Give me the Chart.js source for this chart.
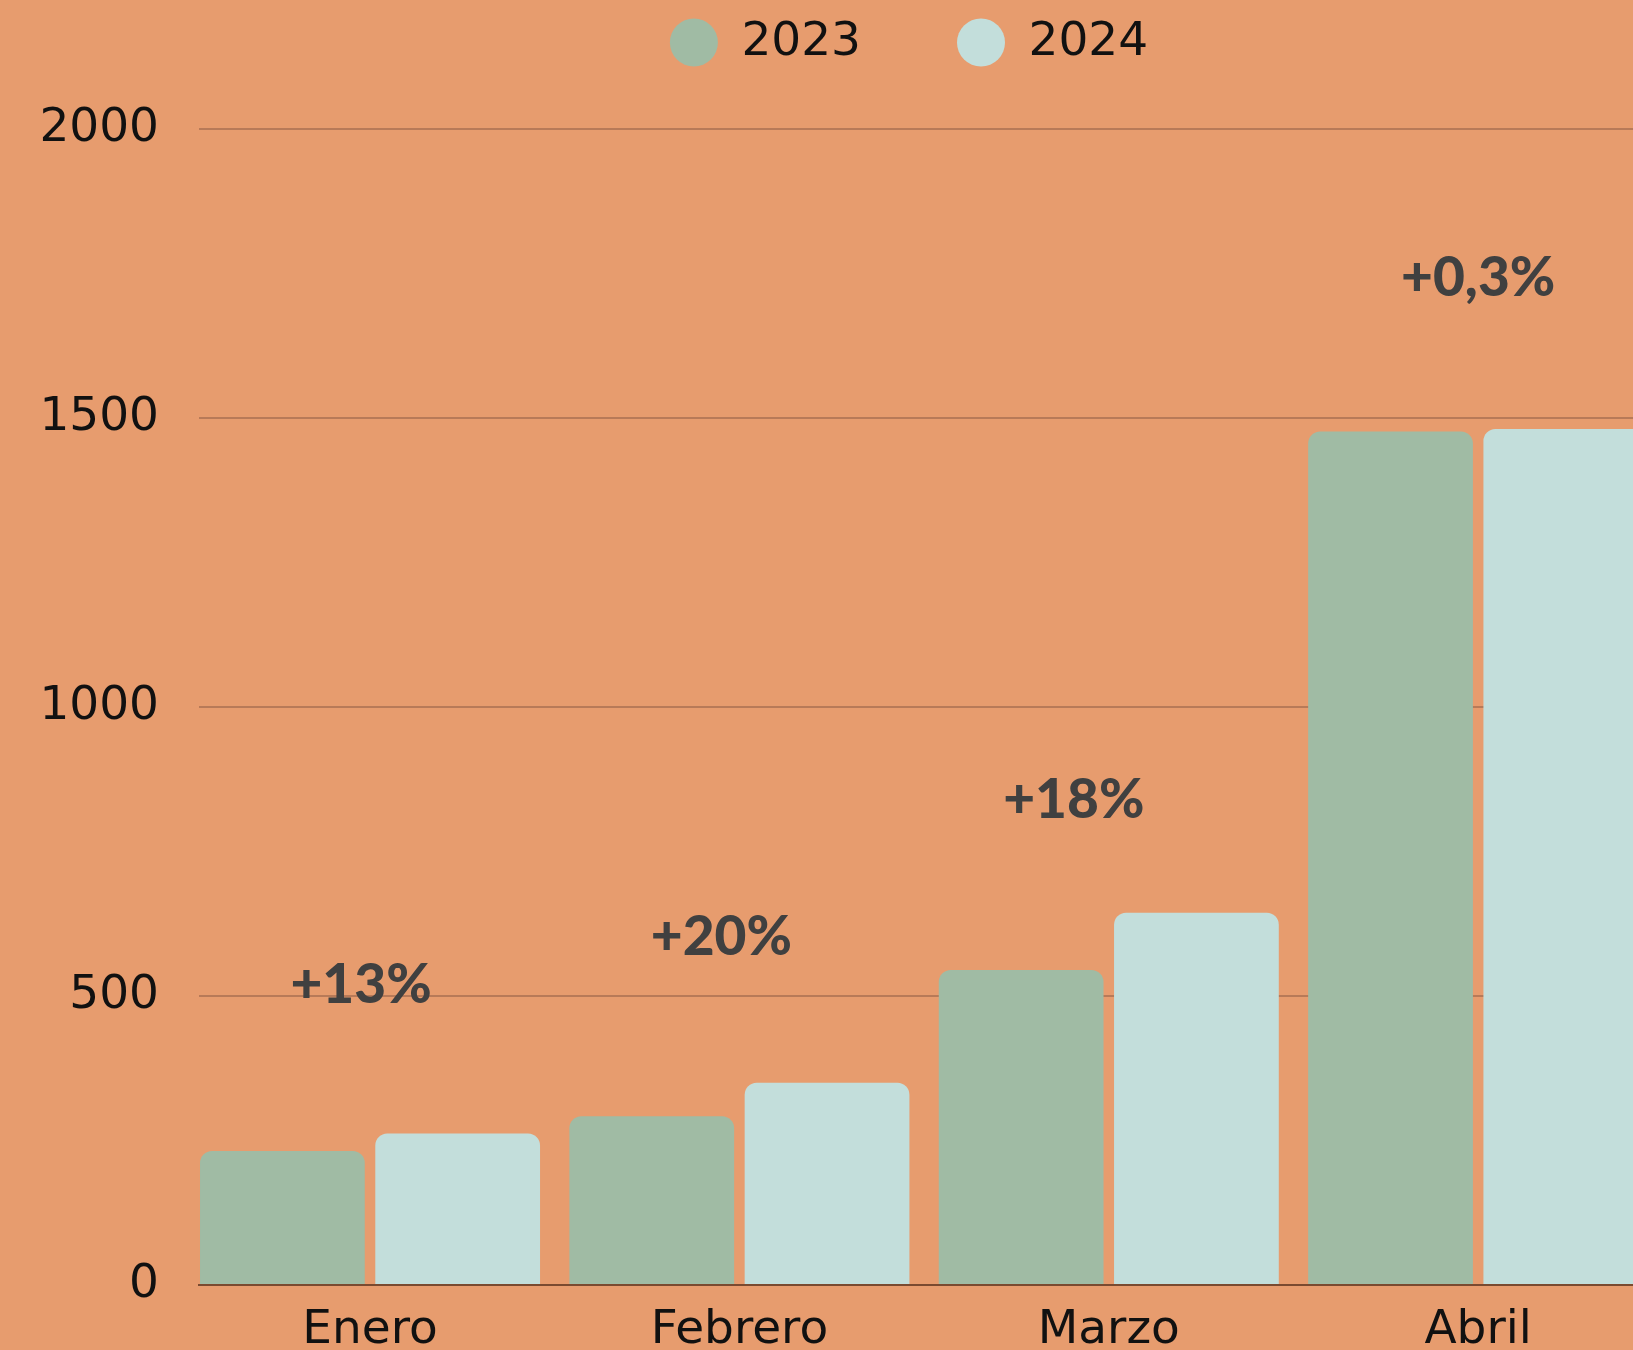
<!DOCTYPE html>
<html>
<head>
<meta charset="utf-8">
<script src="https://cdn.jsdelivr.net/npm/chart.js@4/dist/chart.umd.min.js"></script>
<style>
  html, body { margin: 0; padding: 0; background: #e79c6e; overflow: hidden; }
  #wrap { width: 1818px; height: 1350px; }
</style>
</head>
<body>
<div id="wrap"><canvas id="salesChart"></canvas></div>
<script>
const MONTHS = ['Enero', 'Febrero', 'Marzo', 'Abril'];
const SERIES_NAMES = ['2023', '2024'];
const VALUES_2023 = [232, 292, 545, 1477];
const VALUES_2024 = [262, 350, 644, 1481];
const GROWTH_LABELS = ['+13%', '+20%', '+18%', '+0,3%'];
const Y_TICKS = [0, 500, 1000, 1500, 2000];

const COLORS = ['#a0bba4', '#c3dedb'];
const TEXT = '#111111';
const AXIS_FONT = { family: '"DejaVu Sans", sans-serif', size: 47 };

// small hand nudges for the growth labels (px), they were placed by hand in the original
const LABEL_NUDGE = [[-9, 0], [-18, 3], [-35, 35], [0, -3]];

const toPoints = vals => vals.map((v, i) => ({ x: i, y: v }));

const growthLabels = {
    id: 'growthLabels',
    afterDatasetsDraw(chart) {
        const { ctx, scales: { x, y } } = chart;
        ctx.save();
        ctx.font = '900 55px Lato, "Liberation Sans", sans-serif';
        ctx.fillStyle = '#404040';
        ctx.textAlign = 'center';
        ctx.textBaseline = 'middle';
        GROWTH_LABELS.forEach((txt, i) => {
            const top = Math.max(VALUES_2023[i], VALUES_2024[i]);
            const px = x.getPixelForValue(i) + LABEL_NUDGE[i][0];
            const py = y.getPixelForValue(top) - 148 + LABEL_NUDGE[i][1];
            ctx.fillText(txt, px, py);
        });
        ctx.restore();
    }
};

new Chart(document.getElementById('salesChart'), {
    type: 'bar',
    data: {
        datasets: [
            { label: SERIES_NAMES[0], data: toPoints(VALUES_2023), backgroundColor: COLORS[0], borderWidth: 0, borderRadius: 12 },
            { label: SERIES_NAMES[1], data: toPoints(VALUES_2024), backgroundColor: COLORS[1], borderWidth: 0, borderRadius: 12 },
        ]
    },
    options: {
        responsive: true,
        maintainAspectRatio: false,
        animation: false,
        layout: { padding: { top: -77, left: 0, right: 0, bottom: 0 } },
        datasets: { bar: { categoryPercentage: 0.949, barPercentage: 0.94 } },
        plugins: {
            tooltip: { enabled: false },
            legend: {
                labels: {
                    usePointStyle: true,
                    pointStyle: 'circle',
                    boxHeight: 34,
                    pointStyleWidth: 48,
                    padding: 96,
                    color: TEXT,
                    font: AXIS_FONT
                }
            }
        },
        scales: {
            x: {
                type: 'linear',
                offset: false,
                min: -0.463,
                max: 3.92,
                afterBuildTicks: s => { s.ticks = MONTHS.map((_, i) => ({ value: i })); },
                afterFit: s => { s.height = 65; },
                grid: { display: false, drawTicks: false, offset: false },
                border: { display: true, color: '#7a4a30', width: 2 },
                ticks: { color: TEXT, font: AXIS_FONT, padding: 18, maxRotation: 0, autoSkip: false, callback: v => MONTHS[v] }
            },
            y: {
                min: 0,
                max: 2092,
                afterBuildTicks: s => { s.ticks = Y_TICKS.map(v => ({ value: v })); },
                afterFit: s => { s.width = 199; },
                // tick marks are kept invisible, they only push the labels away from the plot
                grid: { color: '#b87a58', lineWidth: 2, drawTicks: true, tickLength: 28, tickColor: 'rgba(0,0,0,0)' },
                border: { display: false },
                ticks: { color: TEXT, font: AXIS_FONT, padding: 12, callback: v => String(v) }
            }
        }
    },
    plugins: [growthLabels]
});
</script>
</body>
</html>
